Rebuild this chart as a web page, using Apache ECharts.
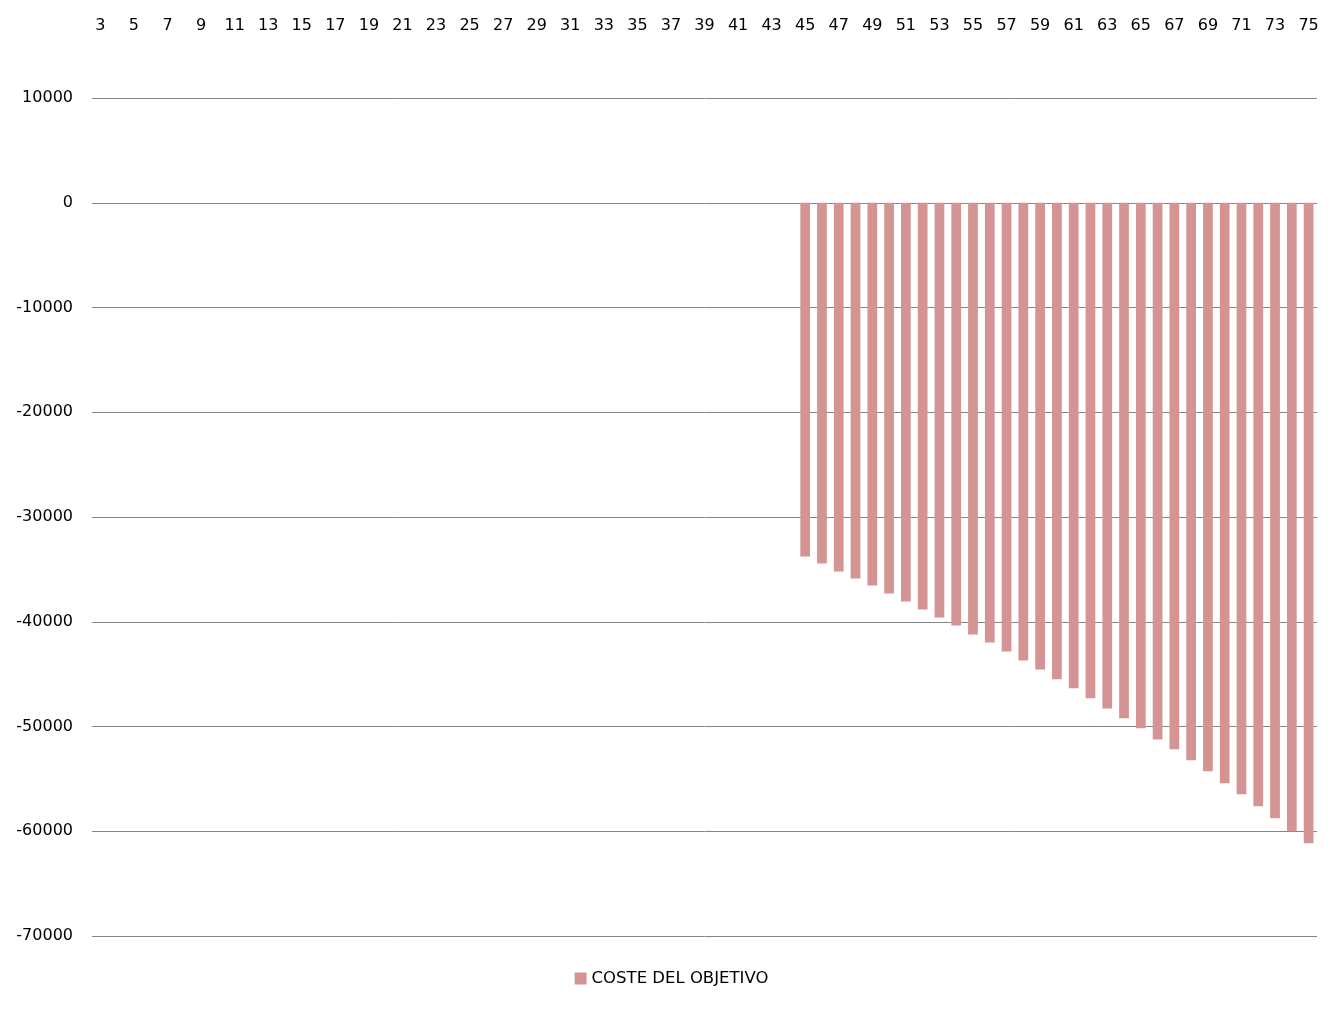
<!DOCTYPE html>
<html>
<head>
<meta charset="utf-8">
<script src="https://cdn.jsdelivr.net/npm/echarts@6/dist/echarts.min.js"></script>
<style>html,body{margin:0;padding:0;background:#fff}#c{width:1343px;height:1009px}</style>
</head>
<body>
<div id="c"></div>
<script>
var categories = [];
for (var k = 3; k <= 75; k++) categories.push(String(k));
var seriesName = 'COSTE DEL OBJETIVO';
// values for categories 45..75 (earlier categories empty)
var firstCategoryWithData = 45;
var costValues = [-33770, -34440, -35200, -35870, -36530, -37300, -38060, -38820, -39590, -40350,
  -41210, -41970, -42830, -43690, -44550, -45500, -46360, -47310, -48270, -49220,
  -50160, -51230, -52180, -53230, -54280, -55420, -56470, -57620, -58760, -60000, -61150];
var yTicks = {min: -70000, max: 10000, interval: 10000};

var data = categories.map(function (c) {
  var i = Number(c) - firstCategoryWithData;
  return (i >= 0 && i < costValues.length) ? costValues[i] : null;
});

var chart = echarts.init(document.getElementById('c'));
var font = 'DejaVu Sans';
chart.setOption({
  animation: false,
  textStyle: {fontFamily: font},
  grid: {left: 92, right: 26, top: 98, bottom: 73, containLabel: false},
  legend: {
    bottom: 17, left: 'center', itemWidth: 12, itemHeight: 12, itemGap: 6,
    icon: 'rect',
    textStyle: {fontFamily: font, fontSize: 16.5, color: '#000'},
    data: [seriesName]
  },
  xAxis: {
    type: 'category', position: 'top', data: categories,
    axisLine: {show: false}, axisTick: {show: false},
    axisLabel: {interval: 1, margin: 64, fontSize: 16, color: '#000', fontFamily: font},
    splitLine: {show: false}
  },
  yAxis: {
    type: 'value', min: yTicks.min, max: yTicks.max, interval: yTicks.interval,
    axisLine: {show: false}, axisTick: {show: false},
    axisLabel: {margin: 19, fontSize: 16, color: '#000', fontFamily: font,
      formatter: function (v) { return String(v); }},
    splitLine: {lineStyle: {color: '#868686', width: 1}}
  },
  series: [{
    name: seriesName, type: 'bar', data: data,
    barWidth: '58%',
    itemStyle: {color: '#d39493'}
  }]
});
</script>
</body>
</html>
